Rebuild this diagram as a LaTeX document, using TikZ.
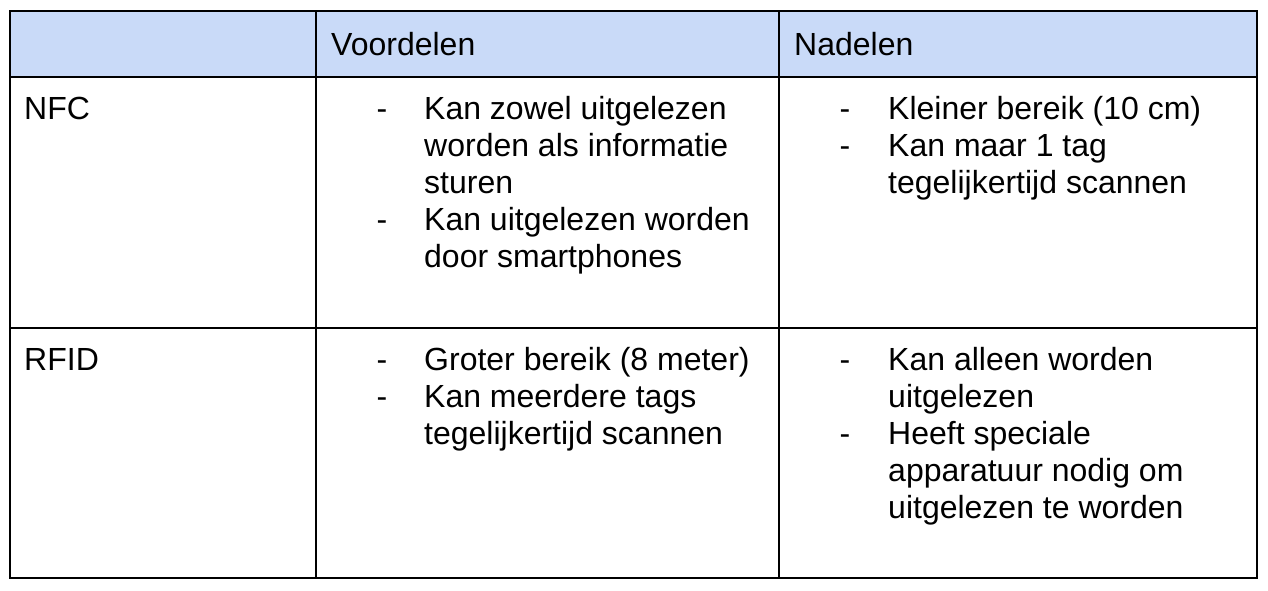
\documentclass[tikz,border=0pt]{standalone}
\usepackage{fontspec}
\setmainfont{Liberation Sans}
\usepackage{xcolor}
\definecolor{header}{HTML}{C9DAF8}

\begin{document}
\begin{tikzpicture}[x=1pt,y=-1pt,
    cell/.style={inner sep=0pt,anchor=base west,align=left,font=\fontsize{32}{37}\selectfont},
    bullet/.style={inner sep=0pt,anchor=base,font=\fontsize{32}{37}\selectfont}]
    \pgfmathsetmacro{\tableleft}{9.5} % outer border of the table
    \pgfmathsetmacro{\tableright}{1257}
    \pgfmathsetmacro{\tabletop}{10.5}
    \pgfmathsetmacro{\tablebottom}{578}
    \pgfmathsetmacro{\colone}{315.5} % column lines
    \pgfmathsetmacro{\coltwo}{779}
    \pgfmathsetmacro{\rowone}{76.5} % row lines
    \pgfmathsetmacro{\rowtwo}{327.5}
    \pgfmathsetmacro{\lineskip}{37} % distance between two lines of text

    \useasboundingbox (0,0) rectangle (1268,590);

    \fill[header] (\tableleft,\tabletop) rectangle (\tableright,\rowone);
    \draw[line width=2pt] (\tableleft,\tabletop) rectangle (\tableright,\tablebottom);
    \draw[line width=2pt] (\colone,\tabletop) -- (\colone,\tablebottom);
    \draw[line width=2pt] (\coltwo,\tabletop) -- (\coltwo,\tablebottom);
    \draw[line width=2pt] (\tableleft,\rowone) -- (\tableright,\rowone);
    \draw[line width=2pt] (\tableleft,\rowtwo) -- (\tableright,\rowtwo);

    % header row
    \node[cell] (voordelen) at (331,55) {Voordelen};
    \node[cell] (nadelen) at (794,55) {Nadelen};

    % NFC row (a node of several lines sits on the baseline of its last line)
    \node[cell] (nfc) at (24,119) {NFC};
    \node[bullet] (nfcvoordash1) at (382,119) {-};
    \node[cell] (nfcvoor1) at (424,119+2*\lineskip) {Kan zowel uitgelezen\\worden als informatie\\sturen};
    \node[bullet] (nfcvoordash2) at (382,119+3*\lineskip) {-};
    \node[cell] (nfcvoor2) at (424,119+4*\lineskip) {Kan uitgelezen worden\\door smartphones};
    \node[bullet] (nfcnadash1) at (845,119) {-};
    \node[cell] (nfcna1) at (888,119) {Kleiner bereik (10 cm)};
    \node[bullet] (nfcnadash2) at (845,119+\lineskip) {-};
    \node[cell] (nfcna2) at (888,119+2*\lineskip) {Kan maar 1 tag\\tegelijkertijd scannen};

    % RFID row
    \node[cell] (rfid) at (24,370) {RFID};
    \node[bullet] (rfidvoordash1) at (382,370) {-};
    \node[cell] (rfidvoor1) at (424,370) {Groter bereik (8 meter)};
    \node[bullet] (rfidvoordash2) at (382,370+\lineskip) {-};
    \node[cell] (rfidvoor2) at (424,370+2*\lineskip) {Kan meerdere tags\\tegelijkertijd scannen};
    \node[bullet] (rfidnadash1) at (845,370) {-};
    \node[cell] (rfidna1) at (888,370+\lineskip) {Kan alleen worden\\uitgelezen};
    \node[bullet] (rfidnadash2) at (845,370+2*\lineskip) {-};
    \node[cell] (rfidna2) at (888,370+4*\lineskip) {Heeft speciale\\apparatuur nodig om\\uitgelezen te worden};
\end{tikzpicture}
\end{document}
